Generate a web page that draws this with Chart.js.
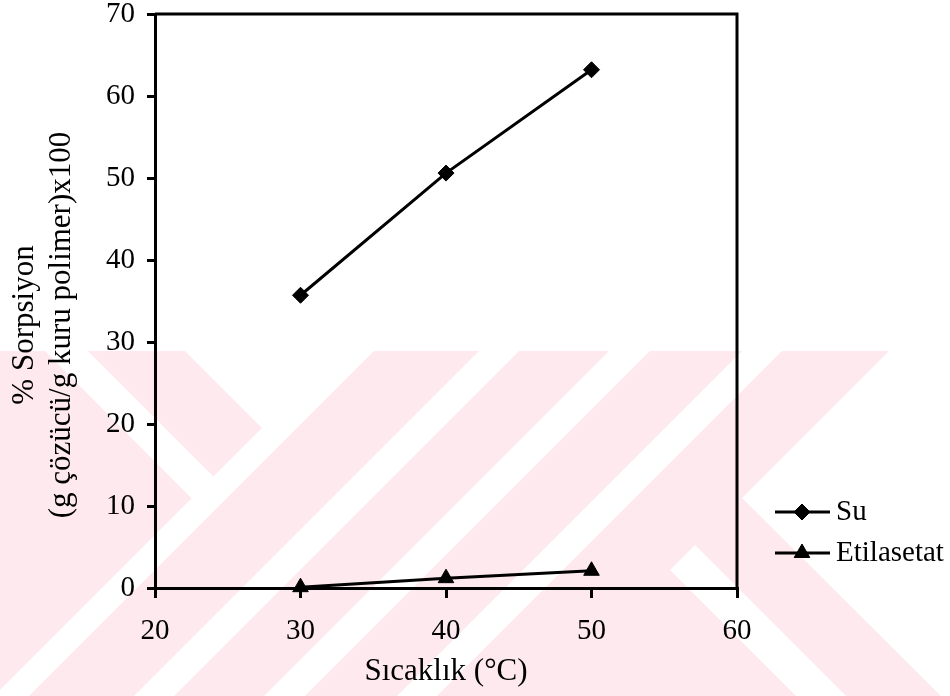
<!DOCTYPE html>
<html lang="tr">
<head>
<meta charset="utf-8">
<title>Sorpsiyon - Sıcaklık</title>
<script src="https://cdn.jsdelivr.net/npm/chart.js@4.4.1/dist/chart.umd.min.js"></script>
<style>
  html, body { margin: 0; padding: 0; background: #fff; }
  #kutu { width: 950px; height: 696px; }
</style>
</head>
<body>
<div id="kutu"><canvas id="sorpsiyonGrafik" width="950" height="696"></canvas></div>
<script>
// Sıcaklık (°C)
const sicakliklar = [30, 40, 50];
// % sorpsiyon = (g çözücü / g kuru polimer) x 100
const suDegerleri = [35.7, 50.6, 63.2];
const etilasetatDegerleri = [0.1, 1.2, 2.1];
const seriAdlari = ["Su", "Etilasetat"];
const xTikleri = [20, 30, 40, 50, 60];
const yTikleri = [0, 10, 20, 30, 40, 50, 60, 70];

const YAZI = "'Liberation Serif', 'Times New Roman', serif";

// arka plandaki soluk pembe filigran
const filigran = {
  id: "filigran",
  beforeDraw(chart) {
    const ctx = chart.ctx;
    const cokgen = (noktalar, renk) => {
      ctx.beginPath();
      noktalar.forEach(([x, y], i) => (i ? ctx.lineTo(x, y) : ctx.moveTo(x, y)));
      ctx.closePath();
      ctx.fillStyle = renk;
      ctx.fill();
    };
    ctx.save();
    ctx.fillStyle = "#fff";
    ctx.fillRect(0, 0, chart.width, chart.height);
    const pembe = "rgb(253,233,238)";
    cokgen([[0, 351], [889, 351], [742, 498], [941, 696], [0, 696]], pembe);
    // beyaz boşluklar
    cokgen([[185, 351], [367, 351], [276, 442]], "#fff");
    cokgen([[339, 351], [374, 351], [29, 696], [-6, 696]], "#fff");
    cokgen([[45, 351], [88, 351], [230, 493], [208, 515]], "#fff");
    cokgen([[479, 351], [519, 351], [174, 696], [134, 696]], "#fff");
    cokgen([[609, 351], [650, 351], [305, 696], [264, 696]], "#fff");
    cokgen([[742, 351], [782, 351], [437, 696], [397, 696]], "#fff");
    cokgen([[695, 545], [670, 570], [796, 696], [846, 696]], "#fff");
    ctx.restore();
  }
};

// grafik alanının üst ve sağ kenarı
const cerceve = {
  id: "cerceve",
  beforeDatasetsDraw(chart) {
    const { ctx, chartArea: a } = chart;
    ctx.save();
    ctx.strokeStyle = "#000";
    ctx.lineWidth = 3;
    ctx.beginPath();
    ctx.moveTo(a.left, a.top);
    ctx.lineTo(a.right, a.top);
    ctx.lineTo(a.right, a.bottom);
    ctx.stroke();
    ctx.restore();
  }
};

// iki satırlık dikey eksen başlığı
const yBaslik = {
  id: "yBaslik",
  afterDraw(chart) {
    const ctx = chart.ctx;
    const orta = (chart.chartArea.top + chart.chartArea.bottom) / 2 + 24;
    ctx.save();
    ctx.translate(0, orta);
    ctx.rotate(-Math.PI / 2);
    ctx.fillStyle = "#000";
    ctx.font = "31px " + YAZI;
    ctx.textAlign = "center";
    ctx.textBaseline = "middle";
    ctx.fillText("% Sorpsiyon", 0, 25);
    ctx.fillText("(g çözücü/g kuru polimer)x100", 0, 62);
    ctx.restore();
  }
};

// sağdaki lejant: çizgi + işaret + ad
const lejant = {
  id: "lejant",
  afterDraw(chart) {
    const ctx = chart.ctx;
    const x0 = chart.chartArea.right + 38;
    const satirlar = [512, 553];
    ctx.save();
    chart.data.datasets.forEach((ds, i) => {
      const y = satirlar[i];
      ctx.strokeStyle = "#000";
      ctx.lineWidth = 3;
      ctx.beginPath();
      ctx.moveTo(x0, y);
      ctx.lineTo(x0 + 55, y);
      ctx.stroke();
      ctx.fillStyle = "#000";
      ctx.lineWidth = 1;
      Chart.helpers.drawPoint(ctx, {
        pointStyle: ds.pointStyle,
        radius: ds.pointRadius,
        rotation: 0,
        borderWidth: 1
      }, x0 + 27, y);
      ctx.font = "29px " + YAZI;
      ctx.textAlign = "left";
      ctx.textBaseline = "middle";
      ctx.fillText(ds.label, x0 + 61, y);
    });
    ctx.restore();
  }
};

function seri(ad, degerler, isaret, boyut) {
  return {
    label: ad,
    data: sicakliklar.map((s, i) => ({ x: s, y: degerler[i] })),
    borderColor: "#000",
    borderWidth: 3,
    backgroundColor: "#000",
    pointStyle: isaret,
    pointRadius: boyut,
    pointBackgroundColor: "#000",
    pointBorderColor: "#000",
    pointBorderWidth: 1,
    tension: 0,
    clip: false
  };
}

new Chart(document.getElementById("sorpsiyonGrafik"), {
  type: "line",
  data: {
    datasets: [
      seri(seriAdlari[0], suDegerleri, "rectRot", 8),
      seri(seriAdlari[1], etilasetatDegerleri, "triangle", 9)
    ]
  },
  options: {
    responsive: false,
    animation: false,
    layout: { padding: { left: 0, top: 14, right: 213, bottom: 0 } },
    plugins: {
      legend: { display: false },
      tooltip: { enabled: false }
    },
    scales: {
      x: {
        type: "linear",
        min: xTikleri[0],
        max: xTikleri[xTikleri.length - 1],
        ticks: {
          stepSize: xTikleri[1] - xTikleri[0],
          color: "#000",
          padding: 16,
          font: { family: YAZI, size: 29 }
        },
        grid: { drawOnChartArea: false, drawTicks: true, tickLength: 10, color: "#000", lineWidth: 3 },
        border: { display: true, color: "#000", width: 3 },
        title: {
          display: true,
          text: "Sıcaklık (°C)",
          color: "#000",
          font: { family: YAZI, size: 31 },
          padding: { top: 0, bottom: 6 }
        },
        afterFit(s) {
          s.height = 108;
          s.paddingLeft = 0;
          s.paddingRight = 0;
        }
      },
      y: {
        min: yTikleri[0],
        max: yTikleri[yTikleri.length - 1],
        ticks: {
          stepSize: yTikleri[1] - yTikleri[0],
          color: "#000",
          padding: 12,
          font: { family: YAZI, size: 29 }
        },
        grid: { drawOnChartArea: false, drawTicks: true, tickLength: 8, color: "#000", lineWidth: 3 },
        border: { display: true, color: "#000", width: 3 },
        afterFit(s) {
          s.width = 155;
          s.paddingTop = 0;
          s.paddingBottom = 0;
        }
      }
    }
  },
  plugins: [filigran, cerceve, yBaslik, lejant]
});
</script>
</body>
</html>
